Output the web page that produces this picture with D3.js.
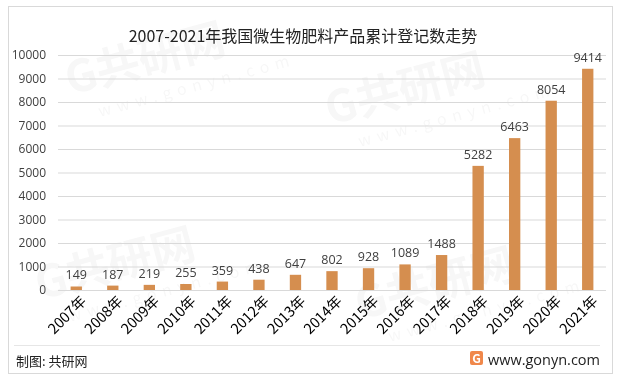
<!DOCTYPE html>
<html><head><meta charset="utf-8">
<script src="https://cdn.jsdelivr.net/npm/d3@7/dist/d3.min.js"></script>
<style>
html,body{margin:0;padding:0;background:#fff;}
svg{display:block;font-family:"Noto Sans CJK SC","Open Sans",sans-serif;}
</style></head>
<body>
<svg id="c" width="623" height="382"></svg>
<script>
const title = "2007-2021年我国微生物肥料产品累计登记数走势";
const years = ["2007年","2008年","2009年","2010年","2011年","2012年","2013年","2014年","2015年","2016年","2017年","2018年","2019年","2020年","2021年"];
const values = [149,187,219,255,359,438,647,802,928,1089,1488,5282,6463,8054,9414];
const yTicks = [0,1000,2000,3000,4000,5000,6000,7000,8000,9000,10000];
const sourceText = "制图: 共研网";
const siteText = "www.gonyn.com";

const svg = d3.select("#c");
// outer border
svg.append("rect").attr("x",8.5).attr("y",6.5).attr("width",604).attr("height",367)
  .attr("fill","#fff").attr("stroke","#d9d9d9");

// faint watermarks
const wm = svg.append("g").attr("opacity",0.035).attr("fill","#000").style("font-weight","bold");
[[70,95],[330,125],[40,300],[360,320]].forEach(([x,y])=>{
  wm.append("text").attr("transform",`translate(${x},${y}) rotate(-15)`).attr("font-size",44).text("G共研网");
  wm.append("text").attr("transform",`translate(${x+30},${y+22}) rotate(-15)`).attr("font-size",16).style("font-weight","normal").attr("letter-spacing",6).text("www.gonyn.com");
});

const x = d3.scaleBand().domain(years).range([58,606]).paddingInner(0.69).paddingOuter(0.345);
const y = d3.scaleLinear().domain([0,10000]).range([290,55]);

// grid
const yAxis = d3.axisLeft(y).tickValues(yTicks).tickSize(-(606-58)).tickFormat(d3.format("d"));
const gy = svg.append("g").attr("transform","translate(58,0)").call(yAxis);
gy.select(".domain").remove();
gy.selectAll(".tick line").attr("stroke","#d9d9d9");
gy.selectAll(".tick text").attr("x",-12).attr("fill","#404040").attr("font-size",12)
  .style("font-family","'Open Sans','Liberation Sans',sans-serif");

// bars
svg.append("g").selectAll("rect").data(values).join("rect")
  .attr("x",(d,i)=>x(years[i])).attr("width",x.bandwidth())
  .attr("y",d=>y(d)).attr("height",d=>y(0)-y(d)).attr("fill","#D58E4F");

// value labels
svg.append("g").selectAll("text").data(values).join("text")
  .attr("x",(d,i)=>x(years[i])+x.bandwidth()/2).attr("y",d=>y(d)-7)
  .attr("text-anchor","middle").attr("font-size",12.5).attr("fill","#404040")
  .style("font-family","'Open Sans','Liberation Sans',sans-serif")
  .text(d=>d);

// x axis labels
const xAxis = d3.axisBottom(x).tickSize(0);
const gx = svg.append("g").attr("transform","translate(0,290)").call(xAxis);
gx.select(".domain").remove();
gx.selectAll(".tick text").attr("font-size",14.5).attr("fill","#000")
  .attr("text-anchor","end").attr("dy",0).attr("y",0)
  .attr("transform","translate(11,12) rotate(-45)")
  .style("font-family","'Noto Sans CJK SC',sans-serif");

// title
svg.append("text").attr("x",303).attr("y",42).attr("text-anchor","middle")
  .attr("font-size",16).attr("fill","#222").text(title);

// separator
svg.append("line").attr("x1",14).attr("x2",600).attr("y1",345.5).attr("y2",345.5).attr("stroke","#e6e6e6");

// footer
svg.append("text").attr("x",16).attr("y",366).attr("font-size",13).attr("fill","#222").text(sourceText);
const lg = svg.append("g").attr("transform","translate(470,351)");
lg.append("rect").attr("width",13).attr("height",14).attr("rx",2).attr("fill","#F0874A");
lg.append("text").attr("x",6.5).attr("y",11.5).attr("text-anchor","middle").attr("font-size",12).attr("font-weight","bold").attr("fill","#fff").text("G");
svg.append("text").attr("x",600).attr("y",365).attr("text-anchor","end").attr("font-size",14.5).attr("fill","#222")
  .style("font-family","'Open Sans','Liberation Sans',sans-serif").text(siteText);
</script>
</body></html>
